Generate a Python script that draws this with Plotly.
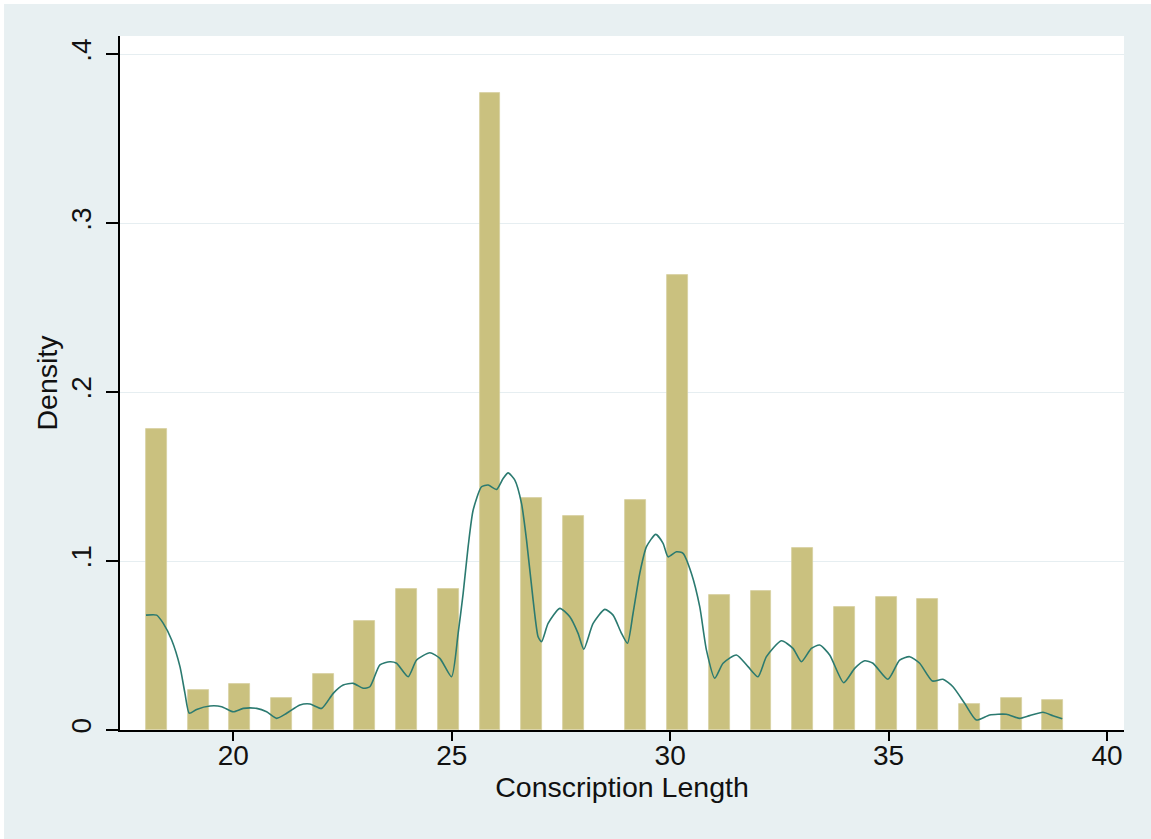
import plotly.graph_objects as go

# Histogram data (integer conscription lengths and their densities)
values = list(range(18, 40))
density = [0.178, 0.0237, 0.0272, 0.0191, 0.0331, 0.0647, 0.0832, 0.0832,
           0.3769, 0.1371, 0.1266, 0.1361, 0.2692, 0.0799, 0.0821, 0.1079,
           0.0728, 0.0787, 0.0775, 0.0156, 0.0191, 0.0178]

# Stata-style binning: 44 bins between min and max
x_min, x_max, n_bins = 18, 39, 44
bin_w = (x_max - x_min) / n_bins
bin_centers = []
for v in values:
    idx = min(((v - x_min) * n_bins) // (x_max - x_min), n_bins - 1)
    bin_centers.append(x_min + idx * bin_w + bin_w / 2)

# Kernel density curve
kde_x = [18.000, 18.245, 18.396, 18.588, 18.778, 18.892, 18.991, 19.160, 19.465, 19.732,
         19.998, 20.227, 20.533, 20.762, 20.991, 21.220, 21.524, 21.753, 22.021, 22.286,
         22.515, 22.744, 22.973, 23.126, 23.355, 23.584, 23.737, 24.002, 24.195, 24.499,
         24.728, 24.995, 25.146, 25.261, 25.375, 25.490, 25.682, 25.833, 26.025, 26.176,
         26.291, 26.444, 26.597, 26.712, 26.863, 26.977, 27.055, 27.206, 27.474, 27.703,
         27.892, 28.023, 28.236, 28.503, 28.693, 28.886, 29.023, 29.151, 29.304, 29.458,
         29.670, 29.838, 29.952, 30.144, 30.295, 30.487, 30.677, 30.831, 31.021, 31.211,
         31.517, 31.783, 32.011, 32.204, 32.547, 32.812, 33.005, 33.233, 33.423, 33.652,
         33.973, 34.224, 34.453, 34.643, 34.986, 35.254, 35.483, 35.712, 36.002, 36.245,
         36.474, 36.741, 37.009, 37.314, 37.696, 38.000, 38.229, 38.533, 38.762, 38.977]
kde_y = [0.0680, 0.0680, 0.0631, 0.0533, 0.0375, 0.0217, 0.0099, 0.0122, 0.0142, 0.0138,
         0.0108, 0.0128, 0.0128, 0.0108, 0.0069, 0.0099, 0.0148, 0.0154, 0.0128, 0.0217,
         0.0266, 0.0276, 0.0247, 0.0256, 0.0385, 0.0404, 0.0395, 0.0315, 0.0414, 0.0457,
         0.0424, 0.0315, 0.0572, 0.0809, 0.1085, 0.1302, 0.1440, 0.1450, 0.1424, 0.1489,
         0.1522, 0.1479, 0.1341, 0.1124, 0.0769, 0.0552, 0.0522, 0.0631, 0.0720, 0.0670,
         0.0572, 0.0478, 0.0631, 0.0714, 0.0680, 0.0572, 0.0513, 0.0691, 0.0927, 0.1085,
         0.1158, 0.1105, 0.1025, 0.1055, 0.1046, 0.0927, 0.0730, 0.0473, 0.0306, 0.0395,
         0.0444, 0.0375, 0.0315, 0.0434, 0.0528, 0.0483, 0.0404, 0.0483, 0.0503, 0.0444,
         0.0280, 0.0365, 0.0410, 0.0395, 0.0300, 0.0414, 0.0434, 0.0395, 0.0290, 0.0300,
         0.0256, 0.0158, 0.0059, 0.0089, 0.0093, 0.0069, 0.0085, 0.0105, 0.0085, 0.0067]

x_ticks = [20, 25, 30, 35, 40]
y_ticks = [0, 0.1, 0.2, 0.3, 0.4]
y_tick_text = ["0", ".1", ".2", ".3", ".4"]

W, H = 1151, 839
ML, MR, MT, MB = 120, 26.5, 36, 109
PW, PH = W - ML - MR, H - MT - MB

BG = "#e8f0f2"
FONT = "Liberation Sans, Arial, sans-serif"

fig = go.Figure()
fig.add_trace(go.Bar(
    x=bin_centers, y=density, width=bin_w,
    marker=dict(color="rgb(202,193,127)", line=dict(color="rgb(214,207,160)", width=0.8)),
    showlegend=False,
))
fig.add_trace(go.Scatter(
    x=kde_x, y=kde_y, mode="lines",
    line=dict(color="#2b7a70", width=1.6, shape="spline", smoothing=0.6),
    showlegend=False,
))

# white strips at top and left edges of the image
fig.add_shape(type="rect", xref="paper", yref="paper",
              x0=-ML / PW, x1=(W - ML) / PW + 0.01,
              y0=(PH + MT - 4) / PH, y1=(PH + MT) / PH + 0.01,
              fillcolor="white", line_width=0, layer="below")
fig.add_shape(type="rect", xref="paper", yref="paper",
              x0=-ML / PW - 0.01, x1=(4 - ML) / PW,
              y0=-MB / PH - 0.01, y1=(PH + MT) / PH + 0.01,
              fillcolor="white", line_width=0, layer="below")

fig.update_layout(
    width=W, height=H,
    margin=dict(l=ML, r=MR, t=MT, b=MB, pad=0),
    paper_bgcolor=BG, plot_bgcolor="white",
    font=dict(family=FONT, size=28, color="#111111"),
    bargap=0,
    xaxis=dict(
        range=[17.405, 40.39], tickvals=x_ticks, ticktext=[str(t) for t in x_ticks],
        showgrid=False, zeroline=False,
        showline=True, linecolor="black", linewidth=1.5,
        ticks="outside", ticklen=9, tickwidth=1.5, tickcolor="black",
        tickfont=dict(size=28), ticklabelstandoff=-9,
        title=dict(text="Conscription Length", font=dict(size=28.5), standoff=2),
    ),
    yaxis=dict(
        range=[0, 0.4108], tickvals=y_ticks, ticktext=y_tick_text,
        showgrid=True, gridcolor="#e6eef1", gridwidth=1.2, zeroline=False,
        showline=True, linecolor="black", linewidth=1.5,
        ticks="outside", ticklen=12, tickwidth=1.5, tickcolor="black",
        tickangle=-90, tickfont=dict(size=28), ticklabelstandoff=4,
        title=dict(text="Density", font=dict(size=28.5), standoff=0),
    ),
)

fig.write_html("out.html")
